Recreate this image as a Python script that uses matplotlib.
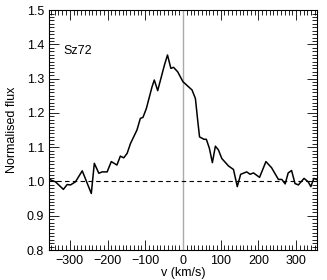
import matplotlib
matplotlib.use("Agg")
import matplotlib.pyplot as plt
from matplotlib.ticker import MultipleLocator
import numpy as np

plt.rcParams['font.family'] = ['Liberation Sans', 'DejaVu Sans']

# velocity (km/s) and normalised flux
vel = [-354, -338, -317, -307, -298, -285, -267, -243, -235, -223, -214, -201,
       -190, -175, -166, -157, -148, -139, -122, -113, -106, -97, -82, -76,
       -67, -49, -41, -32, -25, -14, 0, 10, 24, 33, 39, 44, 56, 62, 70, 78,
       86, 94, 103, 121, 134, 144, 153, 169, 178, 187, 203, 220, 235, 253,
       262, 271, 279, 288, 297, 306, 321, 332, 339, 347, 354]
flux = [1.006, 0.999, 0.977, 0.991, 0.990, 0.999, 1.031, 0.965, 1.053, 1.024,
        1.028, 1.028, 1.058, 1.048, 1.074, 1.069, 1.082, 1.111, 1.150, 1.184,
        1.187, 1.213, 1.276, 1.296, 1.265, 1.340, 1.369, 1.330, 1.333, 1.320,
        1.291, 1.281, 1.267, 1.242, 1.179, 1.130, 1.123, 1.123, 1.097, 1.055,
        1.103, 1.092, 1.067, 1.045, 1.035, 0.985, 1.021, 1.028, 1.021, 1.025,
        1.012, 1.058, 1.040, 1.006, 1.006, 0.993, 1.025, 1.032, 0.994, 0.990,
        1.009, 0.999, 0.985, 1.009, 1.006]

fig = plt.figure(figsize=(3.27, 2.8), dpi=100)
ax = fig.add_axes([0.15, 0.107, 0.819, 0.857])

# zero velocity and continuum level
ax.axvline(0, color="#aaaaaa", lw=1.0)
ax.axhline(1.0, color="black", lw=0.8, ls=(0, (4, 3)))
ax.plot(vel, flux, color="black", lw=1.1)

ax.text(-318, 1.38, "Sz72", fontsize=9, va="center", ha="left")

ax.set_xlim(-355, 355)
ax.set_ylim(0.8, 1.5)
ax.xaxis.set_major_locator(MultipleLocator(100))
ax.xaxis.set_minor_locator(MultipleLocator(10))
ax.yaxis.set_major_locator(MultipleLocator(0.1))
ax.yaxis.set_minor_locator(MultipleLocator(0.01))
ax.yaxis.set_major_formatter(matplotlib.ticker.FormatStrFormatter("%.1f"))
ax.tick_params(which="both", direction="in", top=True, right=True,
               labelsize=9, width=0.6)
ax.tick_params(which="major", length=7)
ax.tick_params(which="minor", length=3.5)
for s in ax.spines.values():
    s.set_linewidth(0.8)

ax.set_xlabel("v (km/s)", fontsize=9, labelpad=0)
ax.set_ylabel("Normalised flux", fontsize=9, labelpad=6)

fig.savefig("out.png", dpi=100)
